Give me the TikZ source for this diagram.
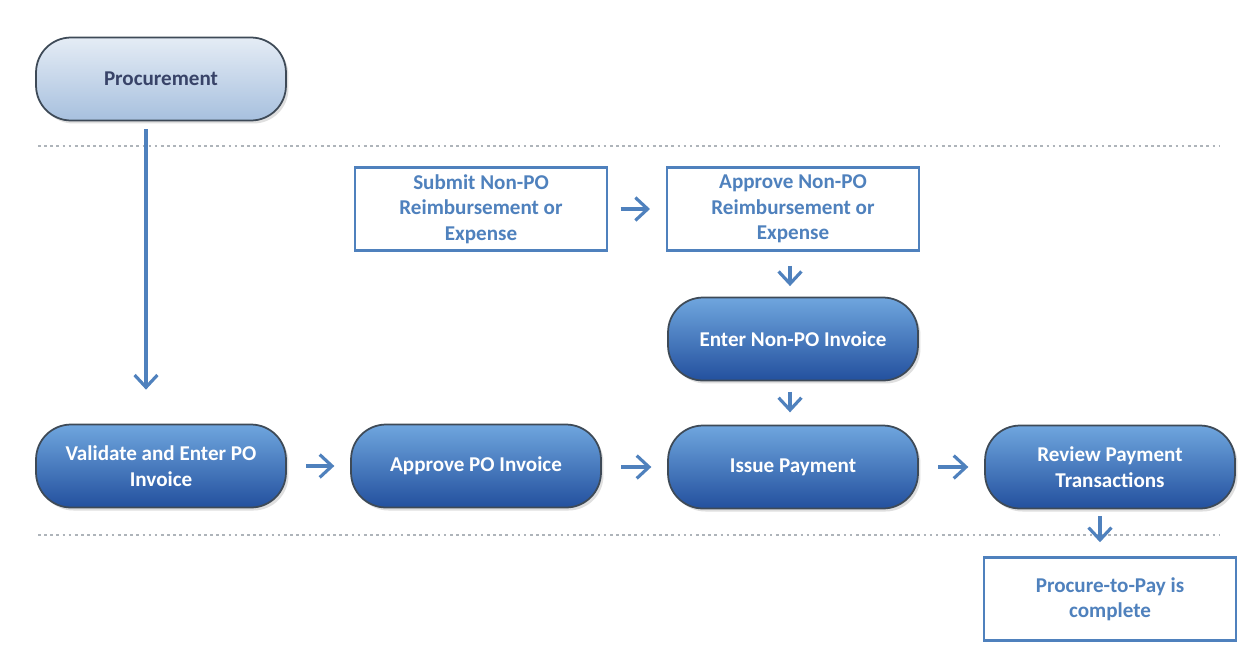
\documentclass[tikz,border=0pt]{standalone}
\usepackage{fontspec}
\setmainfont{Carlito}
\usetikzlibrary{arrows.meta,shadows,calc}
\definecolor{steel}{HTML}{4F81BD}
\definecolor{topblue}{HTML}{6FA6DE}
\definecolor{lowblue}{HTML}{23509E}
\definecolor{edgegray}{HTML}{3E4A57}
\definecolor{palegray}{HTML}{AEB4BA}
\tikzset{
  stepdark/.style={rounded corners=0.7cm, draw=edgegray, line width=1pt,
    top color=topblue, bottom color=lowblue, text=white,
    font=\fontsize{12}{14.5}\selectfont\bfseries, align=center,
    minimum width=5.0cm, minimum height=1.66cm,
    drop shadow={opacity=0.25, shadow xshift=0.05cm, shadow yshift=-0.06cm}},
  steplight/.style={stepdark, top color=steel!15!white, bottom color=steel!50!white,
    text=edgegray!90!blue},
  stepbox/.style={draw=steel, line width=1.4pt, fill=white, text=steel,
    font=\fontsize{12}{14.5}\selectfont\bfseries, align=center,
    minimum width=5.04cm, minimum height=1.66cm},
  flow/.style={draw=steel, line width=1.8pt,
    -{Straight Barb[length=7pt,width=13pt,line width=1.8pt]}},
  lane/.style={draw=palegray, line width=1.5pt, dotted}
}
\begin{document}
\begin{tikzpicture}[x=0.02cm,y=-0.02cm]
        \useasboundingbox[fill=white] (0,0) rectangle (1253,646);

        \draw[lane] (38,146) -- (1220,146);
        \draw[lane] (38,535) -- (1220,535);

        \node[steplight] (proc) at (161,79) {Procurement};

        \node[stepbox] (submit) at (481,209) {Submit Non-PO\\Reimbursement or\\Expense};
        \node[stepbox] (apprnon) at (793,209) {Approve Non-PO\\Reimbursement or\\Expense};
        \node[stepdark] (enternon) at (793,339) {Enter Non-PO Invoice};

        \node[stepdark] (valid) at (161,466) {Validate and Enter PO\\Invoice};
        \node[stepdark] (apprpo) at (476,466) {Approve PO Invoice};
        \node[stepdark] (issue) at (793,467) {Issue Payment};
        \node[stepdark] (review) at (1110,467) {Review Payment\\Transactions};

        \node[stepbox] (done) at (1110,599) {Procure-to-Pay is\\complete};

        \draw[flow] ($(proc.south)+(-15,8)$) -- ($(valid.north)+(-15,-34)$);
        \draw[flow, shorten <=7pt, shorten >=9pt] (submit.east) -- (apprnon.west);
        \draw[flow, shorten <=8pt, shorten >=6pt] ($(apprnon.south)+(-3,0)$) -- ($(enternon.north)+(-3,0)$);
        \draw[flow, shorten <=6pt, shorten >=7pt] ($(enternon.south)+(-3,0)$) -- ($(issue.north)+(-3,0)$);
        \draw[flow, shorten <=11pt, shorten >=9pt] (valid.east) -- (apprpo.west);
        \draw[flow, shorten <=11pt, shorten >=9pt] (apprpo.east |- issue) -- (issue.west);
        \draw[flow, shorten <=11pt, shorten >=9pt] (issue.east) -- (review.west);
        \draw[flow, shorten <=4pt, shorten >=8pt] ($(review.south)+(-10,0)$) -- ($(done.north)+(-10,0)$);
\end{tikzpicture}
\end{document}
